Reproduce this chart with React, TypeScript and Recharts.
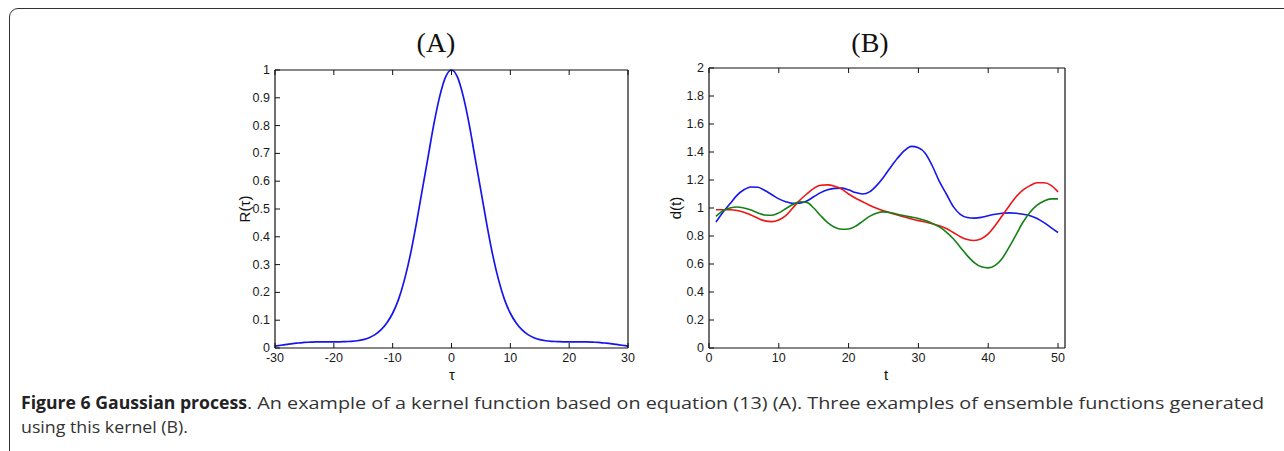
import { LineChart, Line, XAxis, YAxis } from 'recharts';

// (A) kernel function R(tau)
const tauValues = [
  -30, -29, -28, -27, -26, -25, -24, -23, -22, -21, -20, -19, -18, -17, -16, -15, -14, -13, -12, -11,
  -10, -9, -8, -7, -6, -5, -4, -3, -2, -1, 0, 1, 2, 3, 4, 5, 6, 7, 8, 9,
  10, 11, 12, 13, 14, 15, 16, 17, 18, 19, 20, 21, 22, 23, 24, 25, 26, 27, 28, 29, 30,
];
const kernelValues = [
  0.007, 0.01, 0.013, 0.016, 0.018, 0.02, 0.021, 0.022, 0.022, 0.022, 0.022, 0.022, 0.023, 0.024, 0.026,
  0.03, 0.037, 0.048, 0.065, 0.09, 0.125, 0.175, 0.245, 0.335, 0.445, 0.565, 0.685, 0.805, 0.905, 0.975,
  1.0,
  0.975, 0.905, 0.805, 0.685, 0.565, 0.445, 0.335, 0.245, 0.175, 0.125, 0.09, 0.065, 0.048, 0.037, 0.03,
  0.026, 0.024, 0.023, 0.022, 0.022, 0.022, 0.022, 0.022, 0.021, 0.02, 0.018, 0.016, 0.013, 0.01, 0.007,
];
const kernelTicksX = [-30, -20, -10, 0, 10, 20, 30];
const kernelTicksY = [0, 0.1, 0.2, 0.3, 0.4, 0.5, 0.6, 0.7, 0.8, 0.9, 1];

// (B) three ensemble functions d(t)
const timeValues = [
  1, 2, 3, 4, 5, 6, 7, 8, 9, 10, 11, 12, 13, 14, 15, 16, 17, 18, 19, 20, 21, 22, 23, 24, 25,
  26, 27, 28, 29, 30, 31, 32, 33, 34, 35, 36, 37, 38, 39, 40, 41, 42, 43, 44, 45, 46, 47, 48, 49, 50,
];
const blueSeries = [
  0.9, 0.97, 1.03, 1.09, 1.13, 1.15, 1.148, 1.125, 1.095, 1.065, 1.045, 1.033, 1.035, 1.05, 1.08,
  1.11, 1.13, 1.14, 1.142, 1.13, 1.11, 1.1, 1.115, 1.16, 1.22, 1.29, 1.355, 1.41, 1.44, 1.43,
  1.39, 1.3, 1.19, 1.1, 1.01, 0.955, 0.932, 0.928, 0.933, 0.945, 0.955, 0.962, 0.965, 0.962, 0.955,
  0.945, 0.925, 0.895, 0.86, 0.825,
];
const redSeries = [
  0.988, 0.988, 0.987, 0.982, 0.97, 0.95, 0.927, 0.908, 0.903, 0.915, 0.945, 1.0, 1.055, 1.1, 1.14,
  1.163, 1.165, 1.155, 1.135, 1.1, 1.07, 1.045, 1.02, 0.998, 0.98, 0.965, 0.95, 0.935, 0.922, 0.91,
  0.9, 0.888, 0.873, 0.853, 0.825, 0.795, 0.775, 0.768, 0.78, 0.815, 0.875, 0.945, 1.015, 1.08, 1.13,
  1.16, 1.18, 1.18, 1.162, 1.115,
];
const greenSeries = [
  0.94, 0.98, 1.0, 1.007, 1.0, 0.985, 0.965, 0.95, 0.948, 0.965, 0.995, 1.025, 1.045, 1.04, 1.0,
  0.945, 0.895, 0.862, 0.848, 0.85, 0.87, 0.905, 0.94, 0.963, 0.972, 0.968, 0.955, 0.945, 0.935, 0.925,
  0.91, 0.89, 0.865, 0.828, 0.78, 0.72, 0.66, 0.61, 0.58, 0.572, 0.59, 0.64, 0.72, 0.81, 0.9,
  0.97, 1.02, 1.05, 1.065, 1.065,
];
const timeTicksX = [0, 10, 20, 30, 40, 50];
const timeTicksY = [0, 0.2, 0.4, 0.6, 0.8, 1, 1.2, 1.4, 1.6, 1.8, 2];

const kernelData = tauValues.map((tau, i) => ({ tau, r: kernelValues[i] }));
const ensembleData = timeValues.map((t, i) => ({
  t,
  blue: blueSeries[i],
  red: redSeries[i],
  green: greenSeries[i],
}));

const axisLine = { stroke: '#111', strokeWidth: 1.2 };
const GAP = 4; // distance between axis and its labels
const TICK = 5; // inward tick length

// matlab-style ticks: drawn inward, labels only on bottom/left
function makeTick(side: 'bottom' | 'top' | 'left' | 'right', showLabel: boolean) {
  return (props: any) => {
    const { x, y, payload } = props;
    let line;
    if (side === 'bottom') line = <line x1={x} x2={x} y1={y - GAP} y2={y - GAP - TICK} stroke="#111" />;
    else if (side === 'top') line = <line x1={x} x2={x} y1={y + GAP} y2={y + GAP + TICK} stroke="#111" />;
    else if (side === 'left') line = <line x1={x + GAP} x2={x + GAP + TICK} y1={y} y2={y} stroke="#111" />;
    else line = <line x1={x - GAP} x2={x - GAP - TICK} y1={y} y2={y} stroke="#111" />;
    return (
      <g>
        {line}
        {showLabel && (
          <text
            x={side === 'left' ? x - 1 : x}
            y={side === 'bottom' ? y + 9.5 : y}
            textAnchor={side === 'left' ? 'end' : 'middle'}
            dominantBaseline={side === 'left' ? 'central' : 'auto'}
            fontFamily='"Liberation Sans", Arial, sans-serif'
            fontSize={12.5}
            fill="#1a1a1a"
          >
            {payload.value}
          </text>
        )}
      </g>
    );
  };
}

function boxAxes(xKey: string, xDomain: number[], xTicks: number[], yDomain: number[], yTicks: number[], yWidth: number) {
  return [
    <XAxis
      key="xb"
      xAxisId="b"
      dataKey={xKey}
      type="number"
      domain={xDomain}
      ticks={xTicks}
      interval={0}
      height={20}
      tickSize={0}
      tickMargin={GAP}
      tick={makeTick('bottom', true)}
      tickLine={false}
      axisLine={axisLine}
    />,
    <XAxis
      key="xt"
      xAxisId="t"
      dataKey={xKey}
      orientation="top"
      type="number"
      domain={xDomain}
      ticks={xTicks}
      interval={0}
      height={1}
      tickSize={0}
      tickMargin={GAP}
      tick={makeTick('top', false)}
      tickLine={false}
      axisLine={axisLine}
    />,
    <YAxis
      key="yl"
      yAxisId="l"
      type="number"
      domain={yDomain}
      ticks={yTicks}
      interval={0}
      width={yWidth}
      tickSize={0}
      tickMargin={GAP}
      tick={makeTick('left', true)}
      tickLine={false}
      axisLine={axisLine}
    />,
    <YAxis
      key="yr"
      yAxisId="r"
      orientation="right"
      type="number"
      domain={yDomain}
      ticks={yTicks}
      interval={0}
      width={1}
      tickSize={0}
      tickMargin={GAP}
      tick={makeTick('right', false)}
      tickLine={false}
      axisLine={axisLine}
    />,
  ];
}

export default function App() {
  return (
    <div
      style={{
        position: 'absolute',
        left: 0,
        top: 0,
        width: 1284,
        height: 451,
        overflow: 'hidden',
        background: '#fff',
      }}
    >
      {/* figure frame, only the left/top edges show */}
      <div
        style={{
          position: 'absolute',
          left: 9,
          top: 8,
          width: 1300,
          height: 460,
          border: '1.5px solid #333',
          borderRadius: 9,
          boxSizing: 'border-box',
        }}
      />

      <div style={{ position: 'absolute', left: 200, top: 60 }}>
        <LineChart width={440} height={320} data={kernelData} margin={{ top: 9, right: 11, bottom: 12, left: 0 }}>
          {boxAxes('tau', [-30, 30], kernelTicksX, [0, 1], kernelTicksY, 75)}
          <Line
            xAxisId="b"
            yAxisId="l"
            dataKey="r"
            type="monotone"
            stroke="#1515ee"
            strokeWidth={1.7}
            dot={false}
            isAnimationActive={false}
          />
        </LineChart>
      </div>

      <div style={{ position: 'absolute', left: 640, top: 58 }}>
        <LineChart width={440} height={322} data={ensembleData} margin={{ top: 9, right: 14, bottom: 12, left: 0 }}>
          {boxAxes('t', [0, 51], timeTicksX, [0, 2], timeTicksY, 69)}
          <Line xAxisId="b" yAxisId="l" dataKey="blue" type="monotone" stroke="#1515ee" strokeWidth={1.6} dot={false} isAnimationActive={false} />
          <Line xAxisId="b" yAxisId="l" dataKey="red" type="monotone" stroke="#ee1515" strokeWidth={1.6} dot={false} isAnimationActive={false} />
          <Line xAxisId="b" yAxisId="l" dataKey="green" type="monotone" stroke="#158015" strokeWidth={1.6} dot={false} isAnimationActive={false} />
        </LineChart>
      </div>

      <svg width={1284} height={451} style={{ position: 'absolute', left: 0, top: 0, pointerEvents: 'none' }}>
        <g fontFamily='"Liberation Serif", "DejaVu Serif", serif' fontSize={28} fill="#111" textAnchor="middle">
          <text x={436} y={52}>(A)</text>
          <text x={870} y={52}>(B)</text>
        </g>
        <g fontFamily='"Liberation Sans", Arial, sans-serif' fontSize={15} fill="#111" textAnchor="middle">
          <text x={244} y={209} dominantBaseline="central" transform="rotate(-90 244 209)">R(τ)</text>
          <text x={675} y={208} dominantBaseline="central" transform="rotate(-90 675 208)">d(t)</text>
          <text x={452} y={374} dominantBaseline="central">τ</text>
          <text x={886} y={374} dominantBaseline="central">t</text>
        </g>
        <g fontFamily='"Open Sans", "Noto Sans", sans-serif' fontSize={17} fill="#333">
          <text x={21} y={409} textLength={226} lengthAdjust="spacingAndGlyphs" fontWeight="bold" fill="#222">
            Figure 6 Gaussian process
          </text>
          <text x={247} y={409} textLength={1017} lengthAdjust="spacingAndGlyphs">
            . An example of a kernel function based on equation (13) (A). Three examples of ensemble functions generated
          </text>
          <text x={21} y={433} textLength={167} lengthAdjust="spacingAndGlyphs">using this kernel (B).</text>
        </g>
      </svg>
    </div>
  );
}
